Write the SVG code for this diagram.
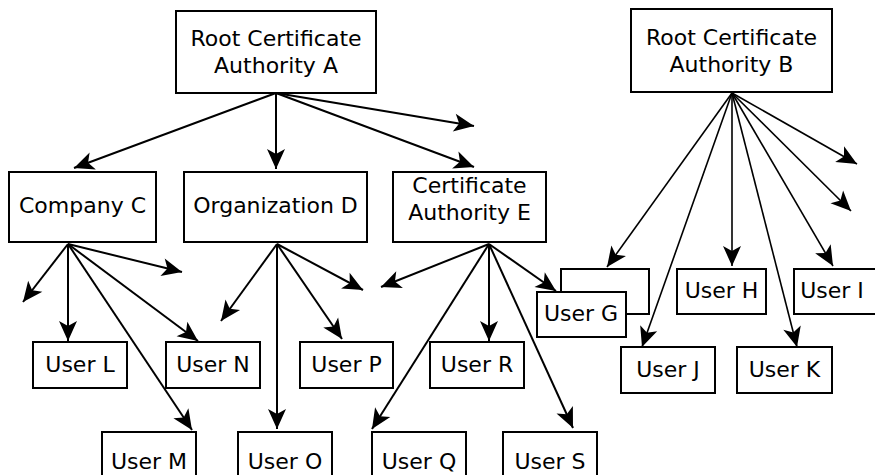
<svg xmlns="http://www.w3.org/2000/svg" width="875" height="475" viewBox="0 0 875 475">
<defs>
<style>
.box{fill:#fff;stroke:#000;stroke-width:2}
.lbl{font-family:"DejaVu Sans","Liberation Sans",sans-serif;font-size:22px;fill:#000;text-anchor:middle}
.edge{stroke:#000;stroke-width:2;fill:none;marker-end:url(#ah)}
.thin{stroke-width:1.6}
</style>
<marker id="ah" markerUnits="userSpaceOnUse" viewBox="-22 -11 24 22" refX="0" refY="0" markerWidth="24" markerHeight="22" orient="auto">
<path d="M0,0 L-20,-9 L-15,0 L-20,9 Z" fill="#000"/>
</marker>
</defs>
<rect width="875" height="475" fill="#fff"/>
<g id="connectors">
<line class="edge" x1="276" y1="93" x2="74" y2="168"/>
<line class="edge" x1="276" y1="93" x2="276" y2="169"/>
<line class="edge" x1="276" y1="93" x2="474" y2="167"/>
<line class="edge" x1="276" y1="93" x2="474" y2="126"/>
<line class="edge thin" x1="732" y1="93" x2="857" y2="164"/>
<line class="edge thin" x1="732" y1="93" x2="851" y2="211"/>
<line class="edge thin" x1="732" y1="93" x2="607" y2="267"/>
<line class="edge thin" x1="732" y1="93" x2="642" y2="347"/>
<line class="edge thin" x1="732" y1="93" x2="732" y2="266"/>
<line class="edge thin" x1="732" y1="93" x2="797" y2="347"/>
<line class="edge thin" x1="732" y1="93" x2="833" y2="266"/>
<line class="edge" x1="68" y1="244" x2="23" y2="302"/>
<line class="edge" x1="68" y1="244" x2="68" y2="341"/>
<line class="edge" x1="68" y1="244" x2="192" y2="430"/>
<line class="edge" x1="68" y1="244" x2="198" y2="341"/>
<line class="edge" x1="68" y1="244" x2="182" y2="272"/>
<line class="edge" x1="277" y1="244" x2="221" y2="321"/>
<line class="edge" x1="277" y1="244" x2="277" y2="429"/>
<line class="edge" x1="277" y1="244" x2="342" y2="339"/>
<line class="edge" x1="277" y1="244" x2="363" y2="290"/>
<line class="edge" x1="489" y1="244" x2="381" y2="287"/>
<line class="edge" x1="489" y1="244" x2="372" y2="429"/>
<line class="edge" x1="489" y1="244" x2="489" y2="341"/>
<line class="edge" x1="489" y1="244" x2="573" y2="428"/>
<line class="edge" x1="489" y1="244" x2="556" y2="291"/>
</g>
<g id="rootA"><rect class="box" x="176" y="11" width="200" height="82"/><text class="lbl" x="276" y="46">Root Certificate</text><text class="lbl" x="276" y="73">Authority A</text></g>
<g id="rootB"><rect class="box" x="631" y="9" width="201" height="83"/><text class="lbl" x="731.5" y="45">Root Certificate</text><text class="lbl" x="731.5" y="71.5">Authority B</text></g>
<g id="companyC"><rect class="box" x="9" y="172" width="147" height="70"/><text class="lbl" x="82.5" y="213">Company C</text></g>
<g id="orgD"><rect class="box" x="184" y="172" width="183" height="70"/><text class="lbl" x="275.5" y="213">Organization D</text></g>
<g id="caE"><rect class="box" x="393" y="172" width="153" height="70"/><text class="lbl" x="469.5" y="193">Certificate</text><text class="lbl" x="469.5" y="220">Authority E</text></g>
<g id="userL"><rect class="box" x="33" y="342" width="94" height="46"/><text class="lbl" x="80" y="372">User L</text></g>
<g id="userN"><rect class="box" x="166" y="342" width="94" height="46"/><text class="lbl" x="213" y="372">User N</text></g>
<g id="userP"><rect class="box" x="300" y="342" width="93" height="46"/><text class="lbl" x="346.5" y="372">User P</text></g>
<g id="userR"><rect class="box" x="430" y="342" width="94" height="46"/><text class="lbl" x="477" y="372">User R</text></g>
<g id="userG"><rect class="box" x="561" y="269" width="88" height="45"/><rect class="box" x="537" y="292" width="89" height="45"/><text class="lbl" x="581" y="321">User G</text></g>
<g id="userH"><rect class="box" x="677" y="269" width="89" height="45"/><text class="lbl" x="721.5" y="298">User H</text></g>
<g id="userI"><rect class="box" x="794" y="269" width="94" height="45"/><text class="lbl" x="832" y="298">User I</text></g>
<g id="userJ"><rect class="box" x="621" y="347" width="94" height="46"/><text class="lbl" x="668" y="377">User J</text></g>
<g id="userK"><rect class="box" x="737" y="347" width="95" height="46"/><text class="lbl" x="784.5" y="377">User K</text></g>
<g id="userM"><rect class="box" x="102" y="432" width="94" height="50"/><text class="lbl" x="149" y="469">User M</text></g>
<g id="userO"><rect class="box" x="238" y="432" width="94" height="50"/><text class="lbl" x="285" y="469">User O</text></g>
<g id="userQ"><rect class="box" x="372" y="432" width="94" height="50"/><text class="lbl" x="419" y="469">User Q</text></g>
<g id="userS"><rect class="box" x="503" y="432" width="94" height="50"/><text class="lbl" x="550" y="469">User S</text></g>
</svg>
